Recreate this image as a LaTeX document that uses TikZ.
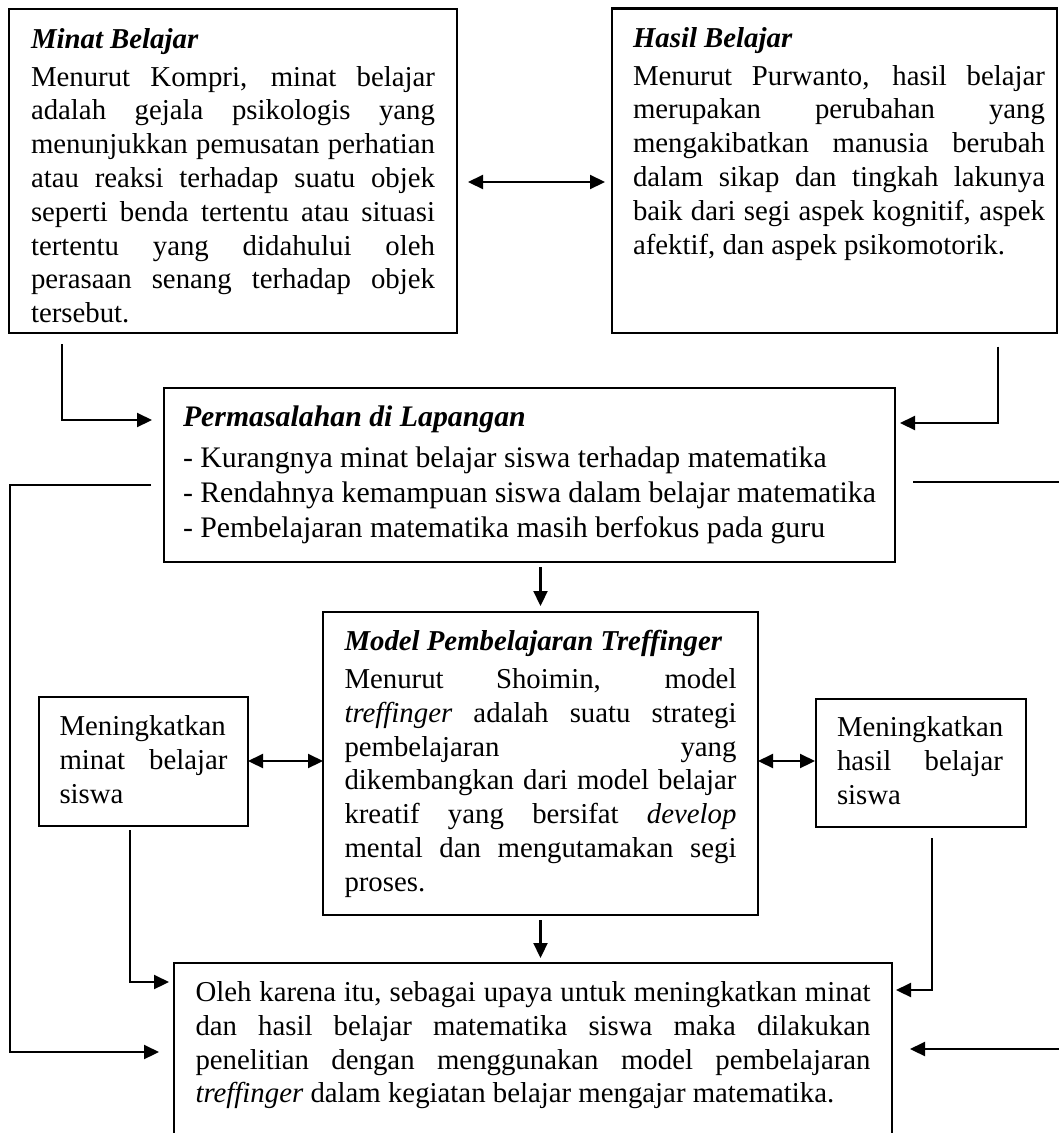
\documentclass[tikz,border=0pt]{standalone}
\usepackage{fontspec}
\setmainfont{Liberation Serif}
\usetikzlibrary{arrows.meta}
\newcommand{\nsp}{\spaceskip=0pt\xspaceskip=0pt\relax}
\newcommand{\jl}[2]{{\nsp\makebox[#1][s]{#2}}}
\newcommand{\ttl}[1]{\textbf{\textit{#1}}}
\tikzset{
  box/.style={draw, line width=2.4pt, rectangle, anchor=north west, outer sep=0pt,
    inner ysep=0pt, align=left, font=\fontsize{28.8}{33.8}\selectfont},
  arr/.style={line width=2.2pt, -{Triangle[length=15pt,width=14pt]}},
  dbl/.style={line width=2.2pt, {Triangle[length=15pt,width=14pt]}-{Triangle[length=15pt,width=14pt]}}
}
\begin{document}
\begin{tikzpicture}[x=1pt,y=-1pt]
\useasboundingbox (0,0) rectangle (1059,1133);

\node[box, inner xsep=22pt, text width=404pt, text height=39pt, text depth=285pt] (minat) at (9,9)
{\nsp\ttl{Minat Belajar}\\[4.2pt]
\jl{404pt}{Menurut Kompri, minat belajar}\\
\jl{404pt}{adalah gejala psikologis yang}\\
\jl{404pt}{menunjukkan pemusatan perhatian}\\
\jl{404pt}{atau reaksi terhadap suatu objek}\\
\jl{404pt}{seperti benda tertentu atau situasi}\\
\jl{404pt}{tertentu yang didahului oleh}\\
\jl{404pt}{perasaan senang terhadap objek}\\
tersebut.};

\node[box, inner xsep=12pt, text width=421pt, text height=38.7pt, text depth=285.7pt] (hasil) at (612,8.3)
{\nsp\hspace*{9pt}\ttl{Hasil Belajar}\\[4.2pt]
\hspace*{9pt}\jl{412pt}{Menurut Purwanto, hasil belajar}\\
\hspace*{9pt}\jl{412pt}{merupakan perubahan yang}\\
\hspace*{9pt}\jl{412pt}{mengakibatkan manusia berubah}\\
\hspace*{9pt}\jl{412pt}{dalam sikap dan tingkah lakunya}\\
\hspace*{9pt}\jl{412pt}{baik dari segi aspek kognitif, aspek}\\
\hspace*{9pt}afektif, dan aspek psikomotorik.};

\node[box, inner xsep=19pt, text width=693pt, text height=38.7pt, text depth=135.3pt,
  font=\fontsize{29.8}{35.3}\selectfont] (perm) at (164,388)
{\nsp\ttl{Permasalahan di Lapangan}\\[5pt]
- Kurangnya minat belajar siswa terhadap matematika\\
- Rendahnya kemampuan siswa dalam belajar matematika\\
- Pembelajaran matematika masih berfokus pada guru};

\node[box, inner xsep=21.5pt, text width=392pt, text height=38.5pt, text depth=264.5pt] (model) at (323,612)
{\nsp\ttl{Model Pembelajaran Treffinger}\\[4.2pt]
\jl{392pt}{Menurut Shoimin, model}\\
\jl{392pt}{\textit{treffinger} adalah suatu strategi}\\
\jl{392pt}{pembelajaran yang}\\
\jl{392pt}{dikembangkan dari model belajar}\\
\jl{392pt}{kreatif yang bersifat \textit{develop}}\\
\jl{392pt}{mental dan mengutamakan segi}\\
proses.};

\node[box, inner xsep=20.5pt, text width=168pt, text height=38pt, text depth=91pt,
  font=\fontsize{28.8}{34}\selectfont] (minatm) at (39,697)
{\nsp Meningkatkan\\
\jl{168pt}{minat belajar}\\
siswa};

\node[box, inner xsep=21pt, text width=168pt, text height=37.7pt, text depth=90.3pt,
  font=\fontsize{28.8}{34}\selectfont] (hasilm) at (816,699)
{\nsp Meningkatkan\\
\jl{166pt}{hasil belajar}\\
siswa};

\node[box, inner xsep=21.5pt, text width=675pt, text height=38.7pt, text depth=190pt,
  font=\fontsize{28.8}{33.7}\selectfont] (oleh) at (174,963)
{\nsp\jl{675pt}{Oleh karena itu, sebagai upaya untuk meningkatkan minat}\\
\jl{675pt}{dan hasil belajar matematika siswa maka dilakukan}\\
\jl{675pt}{penelitian dengan menggunakan model pembelajaran}\\
\textit{treffinger} dalam kegiatan belajar mengajar matematika.};

% connectors
\coordinate (c1) at (62,420);
\draw[arr, shorten <=11pt, shorten >=12pt] (minat.south -| c1) |- (perm.west |- c1);
\coordinate (c2) at (998,423);
\draw[arr, shorten <=14pt, shorten >=5pt] (hasil.south -| c2) |- (perm.east |- c2);
\coordinate (c3) at (0,182);
\draw[dbl, shorten <=11pt, shorten >=7pt] (minat.east |- c3) -- (hasil.west |- c3);

\coordinate (l1) at (10,485);
\coordinate (l2) at (10,1052);
\draw[arr, shorten <=13pt, shorten >=15pt] (perm.west |- l1) -- (l1) -- (l2) -- (oleh.west |- l2);
\coordinate (r1) at (1063,482);
\coordinate (r2) at (1063,1049);
\draw[arr, shorten <=18pt, shorten >=18pt] (perm.east |- r1) -- (r1) -- (r2) -- (oleh.east |- r2);

\draw[arr, shorten <=5pt, shorten >=6pt] (perm.south -| model.north) -- (model.north);
\draw[arr, shorten <=5pt, shorten >=5pt] (model.south) -- (oleh.north -| model.south);

\coordinate (c8) at (0,761);
\draw[dbl] (minatm.east |- c8) -- (model.west |- c8);
\draw[dbl, shorten >=1pt] (model.east |- c8) -- (hasilm.west |- c8);

\coordinate (c10) at (130,982);
\draw[arr, shorten <=4pt, shorten >=5pt] (minatm.south -| c10) |- (oleh.west |- c10);
\coordinate (c11) at (932,990);
\draw[arr, shorten <=11pt, shorten >=4pt] (hasilm.south -| c11) |- (oleh.east |- c11);
\end{tikzpicture}
\end{document}
